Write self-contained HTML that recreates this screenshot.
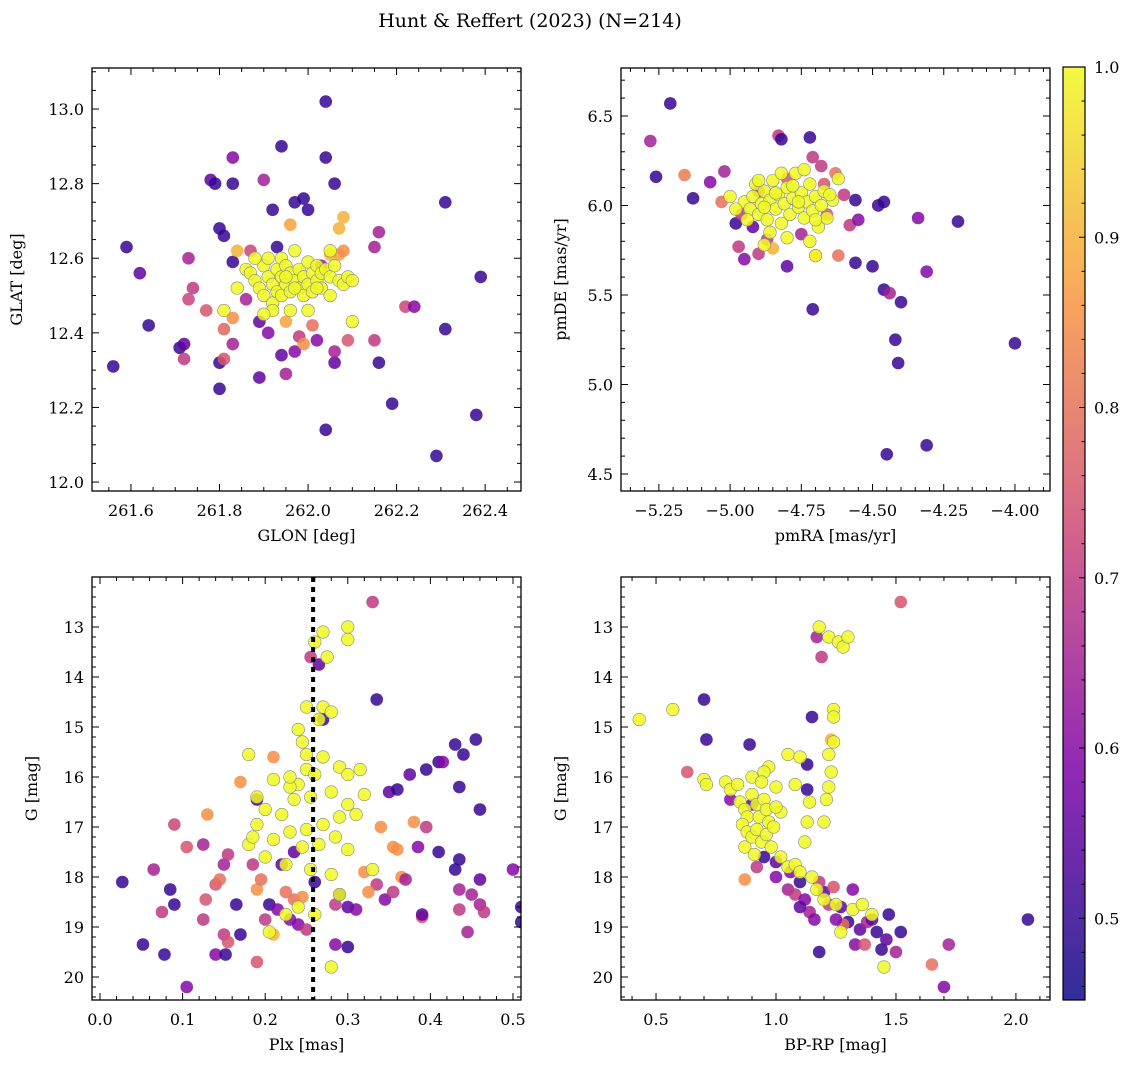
<!DOCTYPE html>
<html><head><meta charset="utf-8">
<style>
body{margin:0;background:#fff;}
svg{display:block;font-family:"DejaVu Serif","Liberation Serif",serif;}
</style></head>
<body>
<svg id="fig" width="1136" height="1067" viewBox="0 0 1136 1067" xmlns="http://www.w3.org/2000/svg">
<text x="530" y="27" font-size="19" text-anchor="middle">Hunt &amp; Reffert (2023) (N=214)</text>
</svg>
<script>
// ---- data arrays ----
const tlPurple = [[261.56,12.31,.5],[261.59,12.63,.5],[261.62,12.56,.55],[261.64,12.42,.5],[261.71,12.36,.5],[261.72,12.37,.55],[261.72,12.33,.7],[261.73,12.60,.65],[261.73,12.49,.72],[261.74,12.52,.7],[261.77,12.46,.75],[261.78,12.81,.55],[261.79,12.80,.5],[261.80,12.68,.5],[261.81,12.66,.5],[261.80,12.32,.5],[261.80,12.25,.5],[261.81,12.33,.75],[261.81,12.41,.78],[261.83,12.87,.6],[261.83,12.80,.5],[261.83,12.59,.5],[261.83,12.37,.65],[261.83,12.44,.85],[261.84,12.62,.9],[261.86,12.49,.65],[261.87,12.62,.72],[261.89,12.28,.55],[261.89,12.43,.55],[261.90,12.81,.65],[261.91,12.40,.6],[261.92,12.73,.5],[261.93,12.63,.5],[261.94,12.90,.5],[261.94,12.34,.55],[261.95,12.29,.65],[261.95,12.43,.88],[261.96,12.69,.88],[261.97,12.75,.5],[261.97,12.35,.6],[261.98,12.39,.7],[261.99,12.76,.5],[261.99,12.37,.85],[262.00,12.73,.5],[262.01,12.42,.8],[262.02,12.38,.6],[262.03,12.58,.65],[262.04,13.02,.5],[262.04,12.87,.5],[262.04,12.14,.5],[262.05,12.61,.9],[262.06,12.80,.5],[262.06,12.32,.55],[262.06,12.35,.65],[262.07,12.61,.88],[262.08,12.62,.85],[262.09,12.38,.75],[262.15,12.63,.65],[262.15,12.38,.7],[262.16,12.67,.65],[262.16,12.32,.5],[262.19,12.21,.5],[262.22,12.47,.72],[262.24,12.47,.6],[262.29,12.07,.5],[262.31,12.75,.5],[262.31,12.41,.5],[262.38,12.18,.5],[262.39,12.55,.5],[262.08,12.71,.9],[262.07,12.68,.9]];
const tlYellow = [[261.84,12.52],[261.86,12.57],[261.87,12.56],[261.88,12.54],[261.89,12.52],[261.90,12.58],[261.90,12.50],[261.91,12.55],[261.91,12.60],[261.92,12.53],[261.92,12.48],[261.93,12.57],[261.93,12.51],[261.94,12.55],[261.94,12.60],[261.94,12.50],[261.95,12.53],[261.95,12.58],[261.96,12.56],[261.96,12.51],[261.97,12.54],[261.97,12.62],[261.98,12.52],[261.98,12.57],[261.99,12.55],[261.99,12.50],[262.00,12.53],[262.00,12.59],[262.01,12.56],[262.01,12.51],[262.02,12.54],[262.02,12.58],[262.03,12.52],[262.03,12.56],[262.04,12.57],[262.05,12.55],[262.05,12.50],[262.06,12.58],[262.07,12.54],[262.08,12.53],[262.09,12.55],[262.10,12.54],[261.88,12.60],[261.92,12.46],[262.05,12.62],[261.96,12.46],[261.90,12.45],[262.00,12.46],[261.81,12.46],[262.10,12.43],[261.97,12.52],[261.95,12.55],[262.02,12.52]];
const trPurple = [[-5.21,6.57,.5],[-5.28,6.36,.65],[-5.26,6.16,.5],[-5.16,6.17,.82],[-5.13,6.04,.5],[-5.07,6.13,.6],[-5.03,6.02,.8],[-5.02,6.19,.65],[-4.98,5.90,.5],[-4.97,5.77,.7],[-4.95,5.70,.6],[-4.96,5.95,.7],[-4.90,5.73,.7],[-4.87,5.81,.7],[-4.83,6.39,.7],[-4.82,6.37,.5],[-4.80,5.66,.55],[-4.72,6.38,.5],[-4.71,6.27,.7],[-4.71,5.42,.5],[-4.70,5.72,.9],[-4.67,6.12,.75],[-4.66,5.95,.75],[-4.63,6.18,.8],[-4.60,6.06,.7],[-4.58,5.89,.7],[-4.56,6.03,.5],[-4.56,5.68,.5],[-4.50,5.66,.5],[-4.48,6.00,.5],[-4.46,6.02,.5],[-4.46,5.53,.5],[-4.44,5.51,.65],[-4.42,5.25,.5],[-4.41,5.12,.5],[-4.40,5.46,.5],[-4.45,4.61,.5],[-4.31,4.66,.5],[-4.34,5.93,.6],[-4.31,5.63,.6],[-4.20,5.91,.5],[-4.00,5.23,.5],[-4.85,5.76,.9],[-4.92,5.88,.55],[-4.62,5.72,.8],[-4.75,5.84,.65],[-4.55,5.92,.6],[-4.90,6.08,.7],[-4.80,6.15,.75],[-4.68,6.22,.7]];
const trYellow = [[-4.95,6.02],[-4.93,5.98],[-4.92,6.05],[-4.91,6.12],[-4.90,5.95],[-4.89,6.01],[-4.88,6.08],[-4.87,5.92],[-4.86,6.03],[-4.85,6.14],[-4.84,5.98],[-4.83,6.06],[-4.82,5.90],[-4.81,6.01],[-4.80,6.10],[-4.79,5.95],[-4.78,6.04],[-4.77,6.18],[-4.76,5.99],[-4.75,6.07],[-4.74,5.93],[-4.73,6.02],[-4.72,6.12],[-4.71,5.97],[-4.70,6.05],[-4.69,5.88],[-4.68,6.00],[-4.67,6.08],[-4.66,5.93],[-4.64,6.03],[-4.62,6.15],[-4.86,5.85],[-4.80,5.82],[-4.72,5.80],[-4.98,5.98],[-4.88,5.99],[-4.78,6.11],[-4.84,6.07],[-4.76,6.02],[-4.70,5.92],[-4.65,6.06],[-4.94,5.92],[-4.82,6.18],[-4.74,6.20],[-5.0,6.05],[-4.90,6.14],[-4.70,5.72],[-4.88,5.78]];
const blPurple = [[0.027,18.1,.5],[0.052,19.35,.5],[0.065,17.85,.65],[0.075,18.7,.7],[0.078,19.55,.5],[0.085,18.25,.5],[0.09,16.95,.72],[0.09,18.55,.5],[0.105,17.4,.75],[0.105,20.2,.6],[0.125,17.35,.65],[0.125,18.85,.7],[0.128,18.45,.75],[0.13,16.75,.85],[0.14,19.55,.6],[0.14,18.15,.75],[0.145,18.05,.8],[0.15,17.75,.65],[0.15,19.15,.7],[0.152,19.55,.5],[0.155,17.55,.7],[0.155,19.3,.75],[0.165,18.55,.5],[0.17,19.15,.5],[0.17,16.1,.85],[0.185,17.75,.7],[0.19,16.45,.5],[0.19,18.25,.85],[0.195,18.05,.8],[0.19,19.7,.75],[0.2,18.85,.7],[0.205,18.55,.5],[0.215,18.65,.6],[0.22,17.75,.55],[0.21,15.6,.85],[0.21,19.15,.9],[0.225,18.3,.8],[0.23,18.85,.6],[0.235,18.45,.8],[0.24,18.95,.6],[0.245,18.4,.85],[0.26,18.1,.5],[0.25,19.05,.7],[0.255,13.6,.7],[0.265,13.75,.55],[0.27,14.85,.5],[0.285,18.55,.7],[0.285,19.35,.6],[0.3,19.4,.5],[0.3,18.6,.55],[0.31,18.65,.6],[0.33,12.5,.7],[0.335,14.45,.5],[0.335,18.15,.7],[0.34,17.0,.85],[0.345,18.45,.6],[0.35,16.3,.55],[0.355,18.3,.7],[0.355,17.4,.85],[0.36,16.25,.5],[0.36,17.45,.85],[0.365,18.0,.85],[0.37,18.05,.65],[0.375,15.95,.55],[0.38,16.9,.85],[0.385,17.4,.6],[0.39,18.8,.75],[0.39,18.75,.55],[0.395,15.85,.5],[0.395,17.0,.7],[0.41,15.7,.5],[0.41,17.5,.5],[0.415,15.7,.6],[0.43,15.35,.5],[0.43,17.85,.5],[0.435,16.2,.5],[0.435,18.25,.65],[0.435,18.65,.7],[0.44,15.55,.5],[0.435,17.65,.5],[0.445,19.1,.65],[0.45,18.35,.65],[0.455,15.25,.5],[0.46,16.65,.5],[0.46,18.05,.55],[0.46,18.55,.65],[0.465,18.7,.7],[0.5,17.85,.6],[0.51,18.6,.5],[0.51,18.9,.5],[0.29,18.35,.5],[0.235,17.5,.55],[0.32,17.9,.85],[0.325,18.3,.85]];
const blYellow = [[0.25,14.6],[0.26,13.3],[0.27,13.1],[0.3,13.0],[0.3,13.25],[0.275,13.6],[0.27,14.6],[0.28,14.7],[0.265,14.85],[0.24,15.05],[0.245,15.3],[0.25,15.55],[0.27,15.6],[0.29,15.8],[0.3,15.95],[0.25,15.85],[0.26,15.95],[0.24,16.15],[0.23,16.2],[0.21,16.05],[0.19,16.4],[0.18,15.55],[0.2,16.65],[0.22,16.75],[0.235,16.45],[0.255,16.4],[0.28,16.3],[0.3,16.55],[0.31,16.75],[0.315,15.85],[0.32,16.35],[0.29,16.8],[0.27,16.95],[0.25,17.05],[0.23,17.1],[0.21,17.25],[0.19,16.95],[0.18,17.35],[0.2,17.6],[0.225,17.75],[0.245,17.4],[0.265,17.35],[0.285,17.2],[0.3,17.45],[0.255,17.85],[0.28,17.95],[0.29,18.35],[0.24,18.6],[0.225,18.75],[0.26,18.75],[0.205,19.1],[0.28,19.8],[0.33,17.85],[0.23,16.0],[0.185,17.2]];
const brPurple = [[0.63,15.9,.75],[0.7,14.45,.5],[0.71,15.25,.5],[0.81,16.45,.6],[0.89,15.35,.5],[0.87,18.05,.85],[0.92,17.8,.7],[1.0,18.0,.6],[1.05,18.25,.65],[1.0,17.7,.55],[1.08,18.35,.7],[1.1,18.1,.5],[1.12,18.45,.6],[1.14,18.7,.65],[1.16,18.85,.6],[1.18,19.5,.5],[1.15,14.8,.5],[1.17,13.2,.65],[1.19,13.6,.7],[1.13,15.75,.5],[1.13,16.25,.5],[1.2,18.3,.55],[1.22,18.55,.7],[1.24,18.2,.75],[1.27,18.6,.55],[1.3,18.9,.5],[1.32,18.25,.6],[1.33,19.35,.6],[1.35,19.05,.55],[1.37,19.35,.75],[1.38,18.9,.65],[1.4,18.85,.55],[1.42,19.1,.5],[1.44,19.45,.5],[1.46,19.25,.55],[1.47,18.75,.5],[1.5,19.5,.65],[1.52,19.1,.5],[1.52,12.5,.75],[1.65,19.75,.8],[1.7,20.2,.6],[1.72,19.35,.65],[2.05,18.85,.5],[1.28,18.95,.8],[0.9,16.55,.55],[0.95,17.6,.5],[1.06,17.9,.6],[1.23,15.25,.9],[1.1,18.6,.55],[1.25,18.85,.6],[1.18,18.1,.7]];
const brYellow = [[0.43,14.85],[0.57,14.65],[0.7,16.05],[0.71,16.15],[0.79,16.1],[0.81,16.25],[0.84,16.15],[1.05,15.55],[1.1,15.6],[1.14,16.5],[1.18,13.0],[1.22,13.2],[1.26,13.3],[1.28,13.4],[1.3,13.2],[1.24,14.65],[1.24,14.8],[1.24,15.3],[1.22,15.55],[1.23,15.9],[1.22,16.2],[1.21,16.45],[1.2,16.9],[1.13,16.9],[1.12,17.3],[1.02,16.7],[0.97,15.8],[0.9,16.0],[0.95,15.9],[0.85,16.5],[0.87,16.65],[0.88,16.8],[0.9,16.35],[0.92,16.55],[0.93,16.8],[0.95,16.45],[0.96,16.65],[0.97,16.9],[0.86,16.95],[0.88,17.1],[0.9,17.2],[0.92,17.05],[0.94,17.3],[0.96,17.15],[0.99,17.0],[0.98,17.4],[1.0,16.6],[0.87,17.4],[0.91,17.55],[1.02,17.6],[1.05,17.8],[1.08,17.75],[1.1,17.9],[1.15,18.0],[1.17,18.25],[1.2,18.45],[1.25,18.55],[1.32,18.65],[1.36,18.55],[1.4,18.75],[1.45,19.8],[1.27,19.1],[1.0,16.2],[0.94,16.1],[1.08,16.15]];
const plxLine = 0.258;
const cbMin = 0.452, cbMax = 1.0;
const cbTicks = [0.5,0.6,0.7,0.8,0.9,1.0];

// ---- helpers ----
const NS="http://www.w3.org/2000/svg";
const svg=document.getElementById('fig');
function mk(tag,attrs,parent){const e=document.createElementNS(NS,tag);for(const k in attrs)e.setAttribute(k,attrs[k]);(parent||svg).appendChild(e);return e;}
const stops=[[0,[13,8,135]],[0.25,[126,3,168]],[0.5,[204,71,120]],[0.75,[248,149,64]],[1,[240,249,33]]];
function plasma(t){t=Math.max(0,Math.min(1,t));for(let i=0;i<stops.length-1;i++){const a=stops[i],b=stops[i+1];if(t<=b[0]){const f=(t-a[0])/(b[0]-a[0]);const c=a[1].map((v,j)=>Math.round(v+(b[1][j]-v)*f));return `rgb(${c[0]},${c[1]},${c[2]})`;}}return 'rgb(240,249,33)';}
function col(p){return plasma((p-cbMin)/(cbMax-cbMin));}
function fmt(v,d){let s=v.toFixed(d);if(v<0)s='\u2212'+s.slice(1);return s;}

function panel(o){
  const g=mk('g',{});
  
  
  const sx=v=>o.x0+(v-o.xmin)/(o.xmax-o.xmin)*(o.x1-o.x0);
  const sy=o.yinv? v=>o.y0+(v-o.ymin)/(o.ymax-o.ymin)*(o.y1-o.y0) : v=>o.y1-(v-o.ymin)/(o.ymax-o.ymin)*(o.y1-o.y0);
  const clip='c'+o.name;
  const cp=mk('clipPath',{id:clip},g);mk('rect',{x:o.x0,y:o.y0,width:o.x1-o.x0,height:o.y1-o.y0},cp);
  const pg=mk('g',{'clip-path':`url(#${clip})`},g);
  
  
  o.purple.forEach(d=>{const c=mk('circle',{cx:sx(d[0]),cy:sy(d[1]),r:6.3,fill:col(d[2]),'fill-opacity':0.85},pg);
    
    });
  o.yellow.forEach(d=>{const c=mk('circle',{cx:sx(d[0]),cy:sy(d[1]),r:6.3,fill:col(1.0),'fill-opacity':0.85,stroke:'#888',"stroke-width":0.6},pg);
    
    });
  if(o.vline!==undefined){const l=mk('line',{x1:sx(o.vline),x2:sx(o.vline),y1:o.y0,y2:o.y1,stroke:'#000','stroke-width':4,'stroke-dasharray':'5,5'},pg);
    
    }
  const fr=mk('rect',{x:o.x0,y:o.y0,width:o.x1-o.x0,height:o.y1-o.y0,fill:'none',stroke:'#000','stroke-width':1.3},g);
  
  
  const tk=mk('g',{stroke:'#000','stroke-width':1},g);
  const eps=1e-9;
  for(let v=Math.ceil(o.xmin/o.xminor-eps)*o.xminor;v<=o.xmax+eps;v+=o.xminor){const X=sx(v);const maj=Math.abs(v/o.xmaj-Math.round(v/o.xmaj))<1e-6;const L=maj?7:4;
    mk('line',{x1:X,x2:X,y1:o.y1,y2:o.y1-L},tk);mk('line',{x1:X,x2:X,y1:o.y0,y2:o.y0+L},tk);
    if(maj){const t=mk('text',{x:X,y:o.y1+25,'font-size':16,'text-anchor':'middle',stroke:'none'},g);t.textContent=fmt(v,o.xd);
      
      }}
  for(let v=Math.ceil(o.ymin/o.yminor-eps)*o.yminor;v<=o.ymax+eps;v+=o.yminor){const Y=sy(v);const maj=Math.abs(v/o.ymaj-Math.round(v/o.ymaj))<1e-6;const L=maj?7:4;
    mk('line',{x1:o.x0,x2:o.x0+L,y1:Y,y2:Y},tk);mk('line',{x1:o.x1,x2:o.x1-L,y1:Y,y2:Y},tk);
    if(maj && Math.abs(Y-o.y0)>3){const t=mk('text',{x:o.x0-8,y:Y+6,'font-size':16,'text-anchor':'end',stroke:'none'},g);t.textContent=fmt(v,o.yd);
      
      }}
  const xl=mk('text',{x:(o.x0+o.x1)/2,y:o.y1+50,'font-size':16,'text-anchor':'middle'},g);xl.textContent=o.xlabel;
  
  
  const yx=o.x0-o.ylo, yy=(o.y0+o.y1)/2;
  const yl=mk('text',{x:yx,y:yy,'font-size':16,'text-anchor':'middle',transform:`rotate(-90 ${yx} ${yy})`},g);yl.textContent=o.ylabel;
  
  
}

panel({name:'glon-glat-panel',x0:92,x1:521,y0:68,y1:491,xmin:261.512,xmax:262.481,ymin:11.976,ymax:13.11,xmaj:0.2,xminor:0.05,ymaj:0.2,yminor:0.05,xd:1,yd:1,xlabel:'GLON [deg]',ylabel:'GLAT [deg]',ylo:70,purple:tlPurple,yellow:tlYellow});
panel({name:'proper-motion-panel',x0:621,x1:1050,y0:68,y1:491,xmin:-5.383,xmax:-3.877,ymin:4.405,ymax:6.768,xmaj:0.25,xminor:0.05,ymaj:0.5,yminor:0.1,xd:2,yd:1,xlabel:'pmRA [mas/yr]',ylabel:'pmDE [mas/yr]',ylo:55,purple:trPurple,yellow:trYellow});
panel({name:'parallax-magnitude-panel',x0:92,x1:521,y0:577,y1:1000,xmin:-0.0097,xmax:0.5097,ymin:12.0,ymax:20.46,yinv:true,xmaj:0.1,xminor:0.02,ymaj:1,yminor:0.2,xd:1,yd:0,xlabel:'Plx [mas]',ylabel:'G [mag]',ylo:55,purple:blPurple,yellow:blYellow,vline:plxLine});
panel({name:'color-magnitude-panel',x0:621,x1:1050,y0:577,y1:1000,xmin:0.354,xmax:2.142,ymin:12.0,ymax:20.46,yinv:true,xmaj:0.5,xminor:0.1,ymaj:1,yminor:0.2,xd:1,yd:0,xlabel:'BP-RP [mag]',ylabel:'G [mag]',ylo:55,purple:brPurple,yellow:brYellow});

// colorbar
const cb=mk('g',{});


const cbx0=1063,cbx1=1085,cby0=67,cby1=1000;
const gr=mk('linearGradient',{id:'cbg',x1:0,y1:1,x2:0,y2:0},cb);
for(let i=0;i<=20;i++){mk('stop',{offset:i/20,'stop-color':plasma(i/20),'stop-opacity':0.85},gr);}
mk('rect',{x:cbx0,y:cby0,width:cbx1-cbx0,height:cby1-cby0,fill:'url(#cbg)',stroke:'#000','stroke-width':1.2},cb);
const cy=v=>cby1-(v-cbMin)/(cbMax-cbMin)*(cby1-cby0);
for(let v=0.46;v<=1.0001;v+=0.02){const Y=cy(v);const maj=Math.abs(v*10-Math.round(v*10))<1e-6;mk('line',{x1:cbx1,x2:cbx1-(maj?6:3.5),y1:Y,y2:Y,stroke:'#000'},cb);}
cbTicks.forEach(v=>{const t=mk('text',{x:cbx1+9,y:cy(v)+6,'font-size':16},cb);t.textContent=v.toFixed(1);
  
  });
</script>
</body></html>
